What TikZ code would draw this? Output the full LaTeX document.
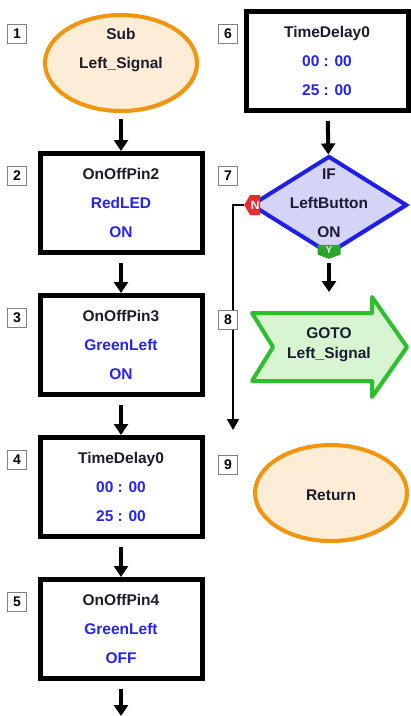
\documentclass[tikz,border=0pt]{standalone}
\usepackage{fontspec}
\setmainfont{Liberation Sans}
\usetikzlibrary{shapes.geometric,shapes.symbols,arrows.meta,shadows}
\definecolor{peach}{RGB}{253,236,214}
\definecolor{orangeline}{RGB}{242,148,12}
\definecolor{lavender}{RGB}{212,212,246}
\definecolor{blueline}{RGB}{30,30,232}
\definecolor{mint}{RGB}{216,245,210}
\definecolor{greenline}{RGB}{44,192,44}
\definecolor{darktxt}{RGB}{28,28,48}
\definecolor{bluetxt}{RGB}{36,36,248}
\definecolor{nred}{RGB}{232,44,44}
\definecolor{ygreen}{RGB}{40,168,40}

\begin{document}
\begin{tikzpicture}[x=1pt,y=-1pt]
\tikzstyle{every node}+=[inner sep=0pt]
\tikzstyle{subell}=[ellipse, draw=orangeline, line width=4pt, fill=peach, minimum width=152pt, minimum height=96pt, drop shadow={opacity=0.3,shadow xshift=2pt,shadow yshift=-2pt}]
\tikzstyle{cmdbox}=[rectangle, draw=black, line width=5pt, fill=white, minimum width=162pt, minimum height=99pt, align=center, text=darktxt, font=\fontsize{15.5}{29}\selectfont\bfseries, drop shadow={opacity=0.35,shadow xshift=2pt,shadow yshift=-2pt}]
\tikzstyle{txt}=[align=center, text=darktxt, font=\fontsize{15.5}{29}\selectfont\bfseries]
\tikzstyle{num}=[rectangle, draw=gray, line width=1pt, fill=white, minimum size=19pt, font=\fontsize{14}{14}\selectfont\bfseries]
\tikzstyle{flow}=[line width=4pt, -{Triangle[width=14pt,length=11pt]}]
\tikzstyle{nline}=[line width=2pt, -{Triangle[width=12pt,length=11pt]}]
\useasboundingbox (0,0) rectangle (411,716);

% left column
\node (sub) [subell] at (121,63) {};
\node (subtxt) [txt] at (121,50) {Sub\\Left\_Signal};
\node (b2) [cmdbox] at (121,203) {OnOffPin2\\\color{bluetxt}RedLED\\\color{bluetxt}ON};
\node (b3) [cmdbox] at (121,345) {OnOffPin3\\\color{bluetxt}GreenLeft\\\color{bluetxt}ON};
\node (b4) [cmdbox] at (121,487) {TimeDelay0\\\color{bluetxt}00 : 00\\\color{bluetxt}25 : 00};
\node (b5) [cmdbox] at (121,629) {OnOffPin4\\\color{bluetxt}GreenLeft\\\color{bluetxt}OFF};
\coordinate (out) at (121,716);
\draw [flow, shorten <=6pt] (sub) -- (b2);
\draw [flow, shorten <=8pt] (b2) -- (b3);
\draw [flow, shorten <=8pt] (b3) -- (b4);
\draw [flow, shorten <=8pt] (b4) -- (b5);
\draw [flow, shorten <=8pt] (b5.south) -- (out);

% right column
\node (b6) [cmdbox] at (327,61) {TimeDelay0\\\color{bluetxt}00 : 00\\\color{bluetxt}25 : 00};
\node (ifnode) [diamond, draw=blueline, line width=4pt, fill=lavender, minimum width=156pt, minimum height=98pt, drop shadow={opacity=0.25,shadow xshift=2pt,shadow yshift=-2pt}] at (329,205) {};
\node (iftxt) [txt] at (329,203) {IF\\LeftButton\\ON};
\node (nmark) [signal, signal from=nowhere, signal to=west, signal pointer angle=120, anchor=west, fill=nred, text=white, minimum width=16pt, minimum height=20pt, font=\fontsize{12}{12}\selectfont\bfseries] at ([xshift=-5pt]ifnode.west) {N};
\node (ymark) [signal, signal from=nowhere, signal to=south, signal pointer angle=140, anchor=south, fill=ygreen, text=white, minimum width=23pt, minimum height=11pt, font=\fontsize{10}{10}\selectfont\bfseries] at ([yshift=-3pt]ifnode.south) {Y};
\draw [flow, shorten <=8pt] (b6) -- (ifnode);
\coordinate (nend) at (233,430);
\draw [nline] (nmark.west) -| (nend);

\draw [draw=greenline, line width=4pt, line join=round, fill=mint, drop shadow={opacity=0.25,shadow xshift=2pt,shadow yshift=-2pt}] (252,313) -- (273,347) -- (252,381) -- (372,381) -- (372,397) -- (407,347) -- (372,297) -- (372,313) -- cycle;
\node (goto) [txt, font=\fontsize{15.5}{20}\selectfont\bfseries] at (329,345) {GOTO\\Left\_Signal};
\coordinate (gotop) at (329,292);
\draw [flow, shorten <=4pt] (ymark.south) -- (gotop);

\node (ret) [subell] at (331,493) {};
\node (rettxt) [txt] at (331,495) {Return};

% step numbers
\node (n1) [num] at (17,34) {1};
\node (n2) [num] at (17,176) {2};
\node (n3) [num] at (17,318) {3};
\node (n4) [num] at (17,460) {4};
\node (n5) [num] at (17,602) {5};
\node (n6) [num] at (228,34) {6};
\node (n7) [num] at (228,176) {7};
\node (n8) [num] at (228,320) {8};
\node (n9) [num] at (228,465) {9};
\end{tikzpicture}
\end{document}
